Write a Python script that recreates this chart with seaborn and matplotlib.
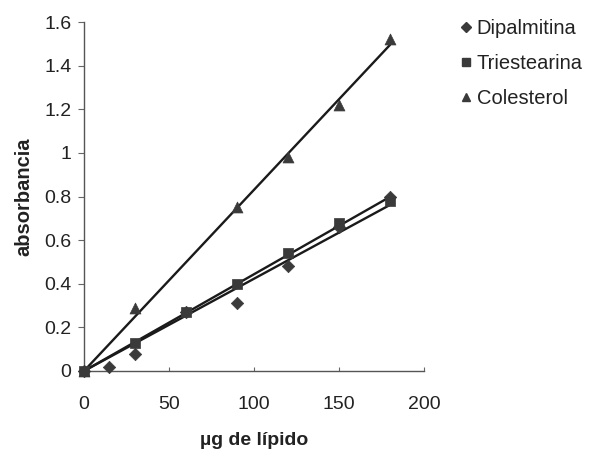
import numpy as np
import pandas as pd
import matplotlib
matplotlib.use("Agg")
import matplotlib.pyplot as plt
import seaborn as sns
from matplotlib.lines import Line2D

sns.set_theme(style="white")
plt.rcParams['font.family'] = ['Liberation Sans', 'DejaVu Sans']

dip_x = [0, 15, 30, 60, 90, 120, 150, 180]
dip_y = [0.0, 0.02, 0.08, 0.27, 0.31, 0.48, 0.66, 0.80]
tri_x = [0, 30, 60, 90, 120, 150, 180]
tri_y = [0.0, 0.13, 0.27, 0.40, 0.54, 0.68, 0.78]
col_x = [0, 30, 90, 120, 150, 180]
col_y = [0.0, 0.29, 0.75, 0.98, 1.22, 1.52]
series_names = ["Dipalmitina", "Triestearina", "Colesterol"]
markers = {"Dipalmitina": "D", "Triestearina": "s", "Colesterol": "^"}
msizes = {"Dipalmitina": 40, "Triestearina": 48, "Colesterol": 62}

df = pd.concat([
    pd.DataFrame({"x": dip_x, "y": dip_y, "serie": "Dipalmitina"}),
    pd.DataFrame({"x": tri_x, "y": tri_y, "serie": "Triestearina"}),
    pd.DataFrame({"x": col_x, "y": col_y, "serie": "Colesterol"}),
])

fig = plt.figure(figsize=(6.13, 4.51), dpi=100)
ax = fig.add_axes([0.137, 0.1774, 0.5547, 0.7738])

# trend lines through origin
for name in series_names:
    d = df[df.serie == name]
    x = d.x.to_numpy(float); y = d.y.to_numpy(float)
    slope = (x * y).sum() / (x * x).sum()
    xs = np.array([0, x.max()])
    ax.plot(xs, slope * xs, color="#1a1a1a", lw=1.7, zorder=2)

for name in series_names:
    d = df[df.serie == name]
    sns.scatterplot(data=d, x="x", y="y", marker=markers[name], s=msizes[name],
                    color="#3a3a3a", edgecolor="#3a3a3a", linewidth=0.5,
                    ax=ax, zorder=3, legend=False, clip_on=False)

ax.set_xlim(0, 200)
ax.set_ylim(0, 1.6)
ax.set_xticks([0, 50, 100, 150, 200])
ax.set_xticklabels(["0", "50", "100", "150", "200"])
ax.set_yticks([0, 0.2, 0.4, 0.6, 0.8, 1.0, 1.2, 1.4, 1.6])
ax.set_yticklabels(["0", "0.2", "0.4", "0.6", "0.8", "1", "1.2", "1.4", "1.6"])
for s in ["top", "right"]:
    ax.spines[s].set_visible(False)
for s in ["left", "bottom"]:
    ax.spines[s].set_color("#555555")
    ax.spines[s].set_linewidth(1.0)
ax.tick_params(axis="y", direction="out", length=4, width=0.8,
               color="#666666", labelsize=14, labelcolor="#222222", pad=5, left=True)
ax.tick_params(axis="x", direction="in", length=3, width=0.8,
               color="#666666", labelsize=14, labelcolor="#222222", pad=18, bottom=True)
ax.set_xlabel("µg de lípido", fontsize=14, fontweight="bold", color="#222222", labelpad=14)
ax.set_ylabel("absorbancia", fontsize=14.5, fontweight="bold", color="#222222", labelpad=8)

handles = [Line2D([], [], linestyle="none", marker=markers[n], color="#3a3a3a",
                  markersize=ms) for n, ms in zip(series_names, [5, 5.5, 6])]
fig.legend(handles, series_names, loc="upper left", bbox_to_anchor=(0.72, 0.99),
           frameon=False, fontsize=14.5, handletextpad=0.05, labelspacing=0.8,
           handlelength=1.0, borderpad=0.2, labelcolor="#222222")

fig.savefig("out.png", dpi=100)
